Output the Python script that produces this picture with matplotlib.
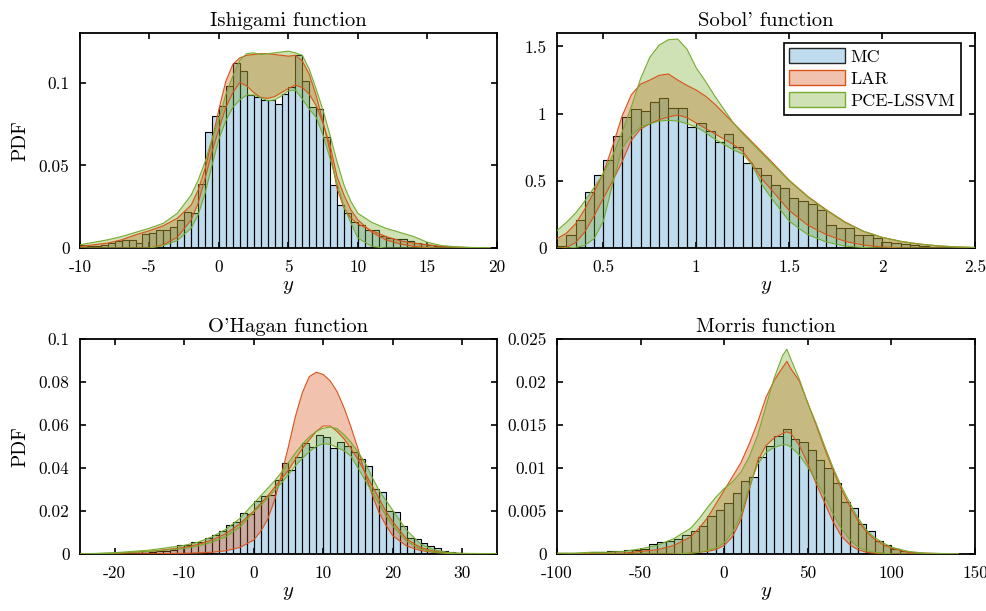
import numpy as np
import matplotlib
matplotlib.use('Agg')
import matplotlib.pyplot as plt
from matplotlib.patches import Patch

# --- style: LaTeX-like look ---
plt.rcParams['font.family'] = 'cmr10'
plt.rcParams['mathtext.fontset'] = 'cm'
plt.rcParams['axes.unicode_minus'] = False

MC_COLOR = (0.0, 0.447, 0.741)
LAR_COLOR = (0.85, 0.325, 0.098)
PCE_COLOR = (0.466, 0.674, 0.188)

# --- Ishigami ---
ishi_bin_start, ishi_bin_width = -10, 0.5
ishi_hist = [0.0016, 0.001, 0.0014, 0.002, 0.0028, 0.004, 0.0046, 0.0046, 0.003, 0.0084,
             0.0092, 0.0107, 0.0107, 0.0129, 0.0167, 0.0215, 0.021, 0.0386, 0.070, 0.080,
             0.086, 0.098, 0.112, 0.107, 0.0925, 0.0915, 0.0895, 0.0895, 0.087, 0.093,
             0.0975, 0.1166, 0.101, 0.085, 0.084, 0.067, 0.038, 0.026, 0.021, 0.016,
             0.0137, 0.011, 0.011, 0.007, 0.006, 0.0056, 0.0054, 0.0044, 0.003, 0.0024,
             0.002, 0.0014, 0.001, 0.0008, 0.0006, 0.0004, 0.0002, 0.0002, 0.0001]
ishi_x = [-10, -9, -8, -7, -6, -5, -4, -3, -2, -1.5, -1, -0.5, 0, 0.5, 1, 1.5, 2, 2.5, 3, 3.5,
          4, 4.5, 5, 5.5, 6, 6.5, 7, 7.5, 8, 8.5, 9, 9.5, 10, 11, 12, 13, 14, 15, 16, 17, 18, 19.5]
ishi_lar_hi = [0.001, 0.002, 0.003, 0.005, 0.008, 0.0105, 0.0135, 0.018, 0.026, 0.035, 0.048,
               0.065, 0.084, 0.101, 0.111, 0.115, 0.1165, 0.117, 0.1175, 0.1175, 0.117, 0.1165,
               0.116, 0.1165, 0.113, 0.105, 0.092, 0.076, 0.058, 0.036, 0.024, 0.018, 0.0145,
               0.0105, 0.007, 0.0045, 0.003, 0.002, 0.001, 0.0006, 0.0003, 0.0001]
ishi_lar_lo = [0, 0, 0, 0, 0, 0, 0.002, 0.0065, 0.017, 0.027, 0.042, 0.058, 0.072, 0.085, 0.094,
               0.1, 0.098, 0.094, 0.091, 0.0905, 0.0915, 0.094, 0.0965, 0.0985, 0.097, 0.093,
               0.086, 0.075, 0.062, 0.043, 0.032, 0.023, 0.017, 0.0095, 0.005, 0.0025, 0.001,
               0.0003, 0, 0, 0, 0]
ishi_pce_hi = [0.002, 0.0035, 0.005, 0.007, 0.0095, 0.012, 0.015, 0.021, 0.032, 0.041, 0.052,
               0.066, 0.078, 0.093, 0.104, 0.1135, 0.1175, 0.118, 0.117, 0.1175, 0.118, 0.1185,
               0.119, 0.118, 0.1165, 0.108, 0.096, 0.083, 0.068, 0.052, 0.038, 0.028, 0.021,
               0.0155, 0.012, 0.0095, 0.007, 0.0035, 0.0015, 0.0008, 0.0004, 0.0002]
ishi_pce_lo = [0, 0, 0, 0, 0, 0, 0.0015, 0.0045, 0.012, 0.02, 0.033, 0.05, 0.066, 0.077, 0.085,
               0.0895, 0.0925, 0.0925, 0.091, 0.089, 0.0895, 0.092, 0.095, 0.0955, 0.090, 0.084,
               0.079, 0.068, 0.054, 0.039, 0.025, 0.015, 0.006, 0.001, 0, 0, 0, 0, 0, 0, 0, 0]

# --- Sobol' ---
sobol_bin_start, sobol_bin_width = 0.25, 0.05
sobol_hist = [0.012, 0.095, 0.21, 0.42, 0.546, 0.656, 0.835, 0.977, 1.037, 1.022, 1.09, 1.12,
              1.04, 1.045, 0.903, 0.93, 0.87, 0.79, 0.85, 0.753, 0.633, 0.596, 0.541, 0.469,
              0.444, 0.372, 0.35, 0.325, 0.28, 0.175, 0.147, 0.147, 0.1, 0.095, 0.075, 0.042,
              0.037, 0.03, 0.02, 0.015, 0.01, 0.005, 0.0025]
sobol_x = [0.25, 0.3, 0.35, 0.4, 0.45, 0.5, 0.55, 0.6, 0.65, 0.7, 0.75, 0.8, 0.85, 0.9, 0.95,
           1.0, 1.05, 1.1, 1.15, 1.2, 1.25, 1.3, 1.35, 1.4, 1.5, 1.6, 1.7, 1.8, 1.9, 2.0, 2.1,
           2.2, 2.3, 2.4, 2.5]
sobol_lar_hi = [0.07, 0.11, 0.18, 0.29, 0.42, 0.56, 0.76, 0.98, 1.14, 1.22, 1.25, 1.285, 1.295,
                1.25, 1.21, 1.175, 1.13, 1.07, 1.0, 0.93, 0.86, 0.79, 0.72, 0.65, 0.505, 0.385,
                0.285, 0.195, 0.125, 0.08, 0.05, 0.03, 0.016, 0.008, 0.004]
sobol_lar_lo = [0, 0.005, 0.04, 0.12, 0.24, 0.37, 0.5, 0.64, 0.8, 0.885, 0.925, 0.955, 0.975,
                0.99, 0.97, 0.93, 0.89, 0.85, 0.81, 0.77, 0.72, 0.63, 0.52, 0.44, 0.28, 0.17,
                0.1, 0.05, 0.022, 0.008, 0.002, 0, 0, 0, 0]
sobol_pce_hi = [0.13, 0.19, 0.26, 0.35, 0.45, 0.555, 0.69, 0.86, 1.05, 1.26, 1.42, 1.51, 1.55,
                1.555, 1.48, 1.34, 1.24, 1.13, 1.03, 0.93, 0.85, 0.78, 0.71, 0.64, 0.5, 0.38,
                0.28, 0.19, 0.125, 0.08, 0.05, 0.03, 0.017, 0.009, 0.005]
sobol_pce_lo = [0, 0, 0.005, 0.02, 0.07, 0.2, 0.48, 0.74, 0.84, 0.9, 0.925, 0.945, 0.95, 0.945,
                0.925, 0.9, 0.86, 0.81, 0.77, 0.73, 0.7, 0.62, 0.48, 0.38, 0.2, 0.1, 0.045,
                0.015, 0.004, 0, 0, 0, 0, 0, 0]

# --- O'Hagan ---
ohag_bin_start, ohag_bin_width = -20, 1
ohag_hist = [0.0003, 0.0003, 0.0002, 0.0004, 0.0016, 0.0008, 0.0013, 0.0016, 0.002, 0.004,
             0.004, 0.0057, 0.0055, 0.0074, 0.009, 0.0107, 0.0135, 0.015, 0.0192, 0.0187,
             0.0246, 0.027, 0.0273, 0.0342, 0.0425, 0.039, 0.045, 0.0515, 0.0497, 0.0552,
             0.0544, 0.0494, 0.052, 0.050, 0.0474, 0.0442, 0.041, 0.030, 0.029, 0.020,
             0.0193, 0.013, 0.0075, 0.0072, 0.0053, 0.0036, 0.0027, 0.0016, 0.0008, 0.0004,
             0.0002]
ohag_x = [-25, -20, -15, -10, -8, -6, -4, -2, 0, 1, 2, 3, 4, 5, 6, 7, 8, 9, 10, 11, 12, 13, 14,
          15, 16, 17, 18, 19, 20, 22, 24, 26, 28, 30, 35]
ohag_lar_hi = [0, 0, 0.0001, 0.0003, 0.0005, 0.0008, 0.0015, 0.003, 0.0065, 0.0105, 0.016,
               0.025, 0.037, 0.05, 0.064, 0.075, 0.0825, 0.0845, 0.0835, 0.0805, 0.0755, 0.068,
               0.059, 0.049, 0.0376, 0.028, 0.0195, 0.0135, 0.0085, 0.0037, 0.0016, 0.0007,
               0.0003, 0.0001, 0]
ohag_lar_lo = [0, 0.0003, 0.0012, 0.003, 0.0045, 0.0065, 0.0095, 0.014, 0.02, 0.0235, 0.027,
               0.031, 0.035, 0.039, 0.044, 0.049, 0.053, 0.057, 0.0595, 0.0595, 0.057, 0.0535,
               0.049, 0.044, 0.038, 0.032, 0.026, 0.02, 0.015, 0.007, 0.003, 0.0012, 0.0005,
               0.0002, 0]
ohag_pce_hi = [0, 0.0006, 0.0018, 0.004, 0.0055, 0.008, 0.0115, 0.0165, 0.0235, 0.027, 0.0305,
               0.034, 0.038, 0.0425, 0.047, 0.051, 0.0545, 0.057, 0.0585, 0.059, 0.0583, 0.0555,
               0.052, 0.0475, 0.0425, 0.036, 0.0298, 0.025, 0.0204, 0.011, 0.0047, 0.0019,
               0.0007, 0.0003, 0.0001]
ohag_pce_lo = [0, 0.0004, 0.0012, 0.0025, 0.0037, 0.0055, 0.008, 0.0125, 0.0195, 0.0225, 0.026,
               0.0295, 0.033, 0.037, 0.041, 0.0445, 0.0475, 0.050, 0.0513, 0.051, 0.0495,
               0.048, 0.0455, 0.040, 0.0345, 0.029, 0.0235, 0.018, 0.013, 0.006, 0.0022,
               0.0008, 0.0003, 0.0001, 0]

# --- Morris ---
morris_bin_start, morris_bin_width = -100, 5
morris_hist = [0.0001, 0.0001, 0.00015, 0.0001, 0.00025, 0.0002, 0.0004, 0.0004, 0.0005,
               0.0005, 0.0006, 0.0012, 0.0014, 0.0015, 0.0017, 0.0022, 0.0027, 0.0032, 0.0044,
               0.0051, 0.0059, 0.0071, 0.0085, 0.009, 0.0113, 0.01255, 0.0137, 0.0145, 0.0134,
               0.013, 0.0121, 0.0109, 0.00995, 0.0083, 0.0061, 0.0054, 0.0035, 0.0027, 0.0015,
               0.0011, 0.0006, 0.0003, 0.0002, 0.0001]
morris_x = [-100, -90, -80, -70, -60, -50, -40, -30, -20, -15, -10, -5, 0, 5, 10, 15, 20, 25,
            30, 35, 37.5, 40, 45, 50, 55, 60, 65, 70, 75, 80, 85, 90, 95, 100, 110, 120, 140]
morris_lar_hi = [0, 0, 0.0001, 0.0001, 0.0001, 0.0003, 0.0005, 0.001, 0.002, 0.003, 0.0042,
                 0.0058, 0.0074, 0.009, 0.0106, 0.0128, 0.0153, 0.0182, 0.0202, 0.0217, 0.0224,
                 0.0215, 0.0201, 0.0176, 0.015, 0.0123, 0.0098, 0.0076, 0.0056, 0.0039, 0.0026,
                 0.0017, 0.0011, 0.0007, 0.0002, 0.0001, 0]
morris_lar_lo = [0, 0, 0, 0, 0, 0, 0, 0, 0.0001, 0.0002, 0.0003, 0.0005, 0.001, 0.002, 0.004,
                 0.0075, 0.0108, 0.0126, 0.0135, 0.014, 0.0142, 0.014, 0.0126, 0.0105, 0.0082,
                 0.006, 0.0038, 0.0021, 0.0011, 0.0005, 0.0002, 0.0001, 0, 0, 0, 0, 0]
morris_pce_hi = [0.0001, 0.0001, 0.0002, 0.0002, 0.0003, 0.0006, 0.001, 0.0018, 0.003, 0.0041,
                 0.0054, 0.0066, 0.0076, 0.0084, 0.0095, 0.0113, 0.0138, 0.0172, 0.0205, 0.0231,
                 0.0238, 0.0226, 0.0203, 0.0175, 0.0152, 0.0126, 0.0101, 0.0079, 0.006, 0.0042,
                 0.0028, 0.0019, 0.0013, 0.0008, 0.0003, 0.0001, 0]
morris_pce_lo = [0, 0, 0, 0, 0, 0, 0, 0, 0.0001, 0.0002, 0.0004, 0.0007, 0.0013, 0.0025, 0.0045,
                 0.0078, 0.0104, 0.0118, 0.0124, 0.0127, 0.0127, 0.0124, 0.0115, 0.0101, 0.0086,
                 0.0068, 0.0047, 0.003, 0.0017, 0.0008, 0.0004, 0.0002, 0.0001, 0, 0, 0, 0]

panels = [
    dict(title="Ishigami function", start=ishi_bin_start, width=ishi_bin_width, hist=ishi_hist,
         x=ishi_x, lar=(ishi_lar_lo, ishi_lar_hi), pce=(ishi_pce_lo, ishi_pce_hi),
         xlim=(-10, 20), xticks=[-10, -5, 0, 5, 10, 15, 20],
         ylim=(0, 0.13), yticks=[0, 0.05, 0.1]),
    dict(title="Sobol' function", start=sobol_bin_start, width=sobol_bin_width, hist=sobol_hist,
         x=sobol_x, lar=(sobol_lar_lo, sobol_lar_hi), pce=(sobol_pce_lo, sobol_pce_hi),
         xlim=(0.25, 2.5), xticks=[0.5, 1, 1.5, 2, 2.5],
         ylim=(0, 1.6), yticks=[0, 0.5, 1, 1.5]),
    dict(title="O'Hagan function", start=ohag_bin_start, width=ohag_bin_width, hist=ohag_hist,
         x=ohag_x, lar=(ohag_lar_lo, ohag_lar_hi), pce=(ohag_pce_lo, ohag_pce_hi),
         xlim=(-25, 35), xticks=[-20, -10, 0, 10, 20, 30],
         ylim=(0, 0.1), yticks=[0, 0.02, 0.04, 0.06, 0.08, 0.1]),
    dict(title="Morris function", start=morris_bin_start, width=morris_bin_width, hist=morris_hist,
         x=morris_x, lar=(morris_lar_lo, morris_lar_hi), pce=(morris_pce_lo, morris_pce_hi),
         xlim=(-100, 150), xticks=[-100, -50, 0, 50, 100, 150],
         ylim=(0, 0.025), yticks=[0, 0.005, 0.01, 0.015, 0.02, 0.025]),
]

# axes rectangles (figure fraction)
rects = [
    [0.081, 0.594, 0.4225, 0.352],
    [0.5643, 0.594, 0.4235, 0.352],
    [0.081, 0.0933, 0.4225, 0.352],
    [0.5643, 0.0933, 0.4235, 0.352],
]

fig = plt.figure(figsize=(9.87, 6.11), dpi=100)

for i, (p, r) in enumerate(zip(panels, rects)):
    ax = fig.add_axes(r)
    n = len(p['hist'])
    lefts = p['start'] + p['width'] * np.arange(n)
    ax.bar(lefts, p['hist'], width=p['width'], align='edge',
           facecolor=MC_COLOR + (0.25,), edgecolor='black', linewidth=0.8, zorder=1)
    x = np.array(p['x'])
    for (lo, hi), col in [(p['lar'], LAR_COLOR), (p['pce'], PCE_COLOR)]:
        ax.fill_between(x, lo, hi, facecolor=col, alpha=0.35, linewidth=0, zorder=2)
        ax.plot(x, lo, color=col, lw=0.8, zorder=3)
        ax.plot(x, hi, color=col, lw=0.8, zorder=3)

    ax.set_xlim(p['xlim'])
    ax.set_ylim(p['ylim'])
    ax.set_xticks(p['xticks'], labels=[f'{t:g}' for t in p['xticks']])
    ax.set_yticks(p['yticks'], labels=[f'{t:g}' for t in p['yticks']])
    ax.tick_params(direction='in', top=True, right=True, length=4, width=1.2,
                   labelsize=12.5)
    ax.tick_params(axis='x', pad=8.5)
    ax.tick_params(axis='y', pad=7.5)
    for s in ax.spines.values():
        s.set_linewidth(1.3)
    ax.set_title(p['title'], fontsize=14.8, pad=5)
    ax.set_xlabel('$y$', fontsize=15, labelpad=2)
    if i % 2 == 0:
        ax.set_ylabel('PDF', fontsize=14, labelpad=7)

    if i == 1:
        handles = [Patch(facecolor=MC_COLOR + (0.25,), edgecolor=(0.15, 0.15, 0.15), lw=1.0),
                   Patch(facecolor=LAR_COLOR + (0.35,), edgecolor=LAR_COLOR, lw=1.0),
                   Patch(facecolor=PCE_COLOR + (0.35,), edgecolor=PCE_COLOR, lw=1.0)]
        leg = ax.legend(handles, ['MC', 'LAR', 'PCE-LSSVM'], loc='upper right',
                        bbox_to_anchor=(0.966, 0.955), fontsize=13, fancybox=False,
                        framealpha=1, edgecolor='black', handlelength=3.1, handleheight=0.9,
                        labelspacing=0.3, borderpad=0.3, handletextpad=0.3,
                        borderaxespad=0)
        leg.get_frame().set_linewidth(1.2)

fig.savefig('out.png', dpi=100)
